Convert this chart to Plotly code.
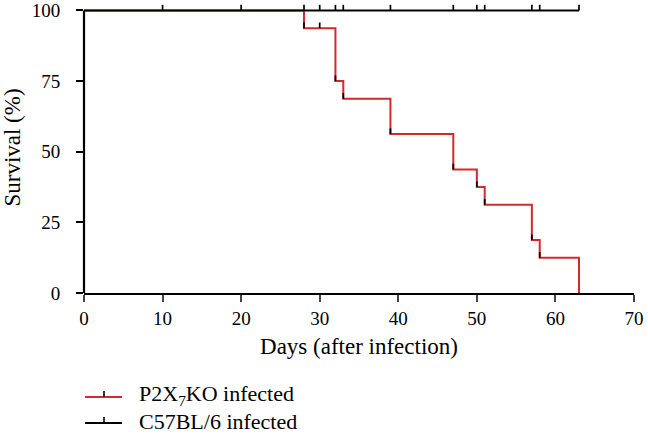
import plotly.graph_objects as go

# Kaplan-Meier data
ko_times = [0, 28, 32, 33, 39, 47, 50, 51, 57, 58, 63]
ko_surv = [100, 93.75, 75, 68.75, 56.25, 43.75, 37.5, 31.25, 18.75, 12.5, 0]
ko_mark_times = [28, 30, 32, 33, 39, 47, 50, 51, 57, 58]
ko_mark_surv = [93.75, 93.75, 75, 68.75, 56.25, 43.75, 37.5, 31.25, 18.75, 12.5]

wt_times = [0, 63]
wt_surv = [100, 100]
wt_censor = [10, 20, 28, 30, 32, 33, 39, 47, 50, 51, 57, 58, 63]

x_ticks = [0, 10, 20, 30, 40, 50, 60, 70]
y_ticks = [0, 25, 50, 75, 100]

RED = "#d42a2c"
FONT = "Liberation Serif"
TICK_H = 2.0  # censor tick height in % units


def tick_segments(xs, ys, h):
    X, Y = [], []
    for x, y in zip(xs, ys):
        X += [x, x, None]
        Y += [y, y + h, None]
    return X, Y


fig = go.Figure()

fig.add_trace(go.Scatter(x=ko_times, y=ko_surv, mode="lines", line_shape="hv",
                         line=dict(color=RED, width=2), cliponaxis=False,
                         showlegend=False))
fig.add_trace(go.Scatter(x=wt_times, y=wt_surv, mode="lines",
                         line=dict(color="black", width=2), cliponaxis=False,
                         showlegend=False))
cx, cy = tick_segments(wt_censor, [100] * len(wt_censor), TICK_H)
fig.add_trace(go.Scatter(x=cx, y=cy, mode="lines", line=dict(color="black", width=1.7),
                         cliponaxis=False, showlegend=False))
rx, ry = tick_segments(ko_mark_times, ko_mark_surv, TICK_H)
fig.add_trace(go.Scatter(x=rx, y=ry, mode="lines", line=dict(color="black", width=1.7),
                         cliponaxis=False, showlegend=False))

L, R, T, B = 84, 14, 2, 142
W, H = 648, 435
pw, ph = W - L - R, H - T - B
Y_MAX = 103  # headroom so censor ticks above 100 % are visible


def px_to_paper(px, py):
    return (px - L) / pw, (H - B - py) / ph


shapes = [
    # y-axis line, from 0 to 100 %
    dict(type="line", xref="paper", yref="y", x0=0, x1=0, y0=0, y1=100,
         line=dict(color="black", width=2.2)),
]
annotations = []
legend_items = [("P2X<sub>7</sub>KO infected", RED, 397), ("C57BL/6 infected", "black", 423)]
for label, color, py in legend_items:
    x0, y0 = px_to_paper(85, py)
    x1, _ = px_to_paper(122, py)
    xm, _ = px_to_paper(104, py)
    _, yt = px_to_paper(104, py - 6)
    shapes.append(dict(type="line", xref="paper", yref="paper", x0=x0, x1=x1, y0=y0, y1=y0,
                       line=dict(color=color, width=2)))
    shapes.append(dict(type="line", xref="paper", yref="paper", x0=xm, x1=xm, y0=y0, y1=yt,
                       line=dict(color="black", width=1.6)))
    tx, ty = px_to_paper(137, py - 2)
    annotations.append(dict(text=label, xref="paper", yref="paper", x=tx, y=ty,
                            xanchor="left", yanchor="middle", showarrow=False,
                            font=dict(family=FONT, size=22, color="black")))

fig.update_layout(
    width=W, height=H,
    margin=dict(l=L, r=R, t=T, b=B, autoexpand=False),
    paper_bgcolor="white", plot_bgcolor="white",
    font=dict(family=FONT, size=19, color="black"),
    shapes=shapes, annotations=annotations,
    showlegend=False, hovermode=False,
)
fig.update_xaxes(range=[0, 70], tickvals=x_ticks, ticks="outside", ticklen=7, tickwidth=2,
                 showline=True, linewidth=2.2, linecolor="black", showgrid=False, zeroline=False,
                 automargin=False, ticklabeloverflow="allow",
                 title=dict(text="Days (after infection)", standoff=10),
                 tickfont=dict(family=FONT, size=19))
fig.update_yaxes(range=[0, Y_MAX], tickvals=y_ticks, ticks="outside", ticklen=7, tickwidth=2,
                 tickcolor="black",
                 showline=False, showgrid=False, zeroline=False,
                 automargin=False, ticklabelstandoff=12, ticklabeloverflow="allow",
                 title=dict(text="Survival (%)", standoff=23),
                 tickfont=dict(family=FONT, size=19))

fig.write_html("out.html", config={"displayModeBar": False},
               post_script="document.body.style.margin='0px';document.body.style.overflow='hidden';")
